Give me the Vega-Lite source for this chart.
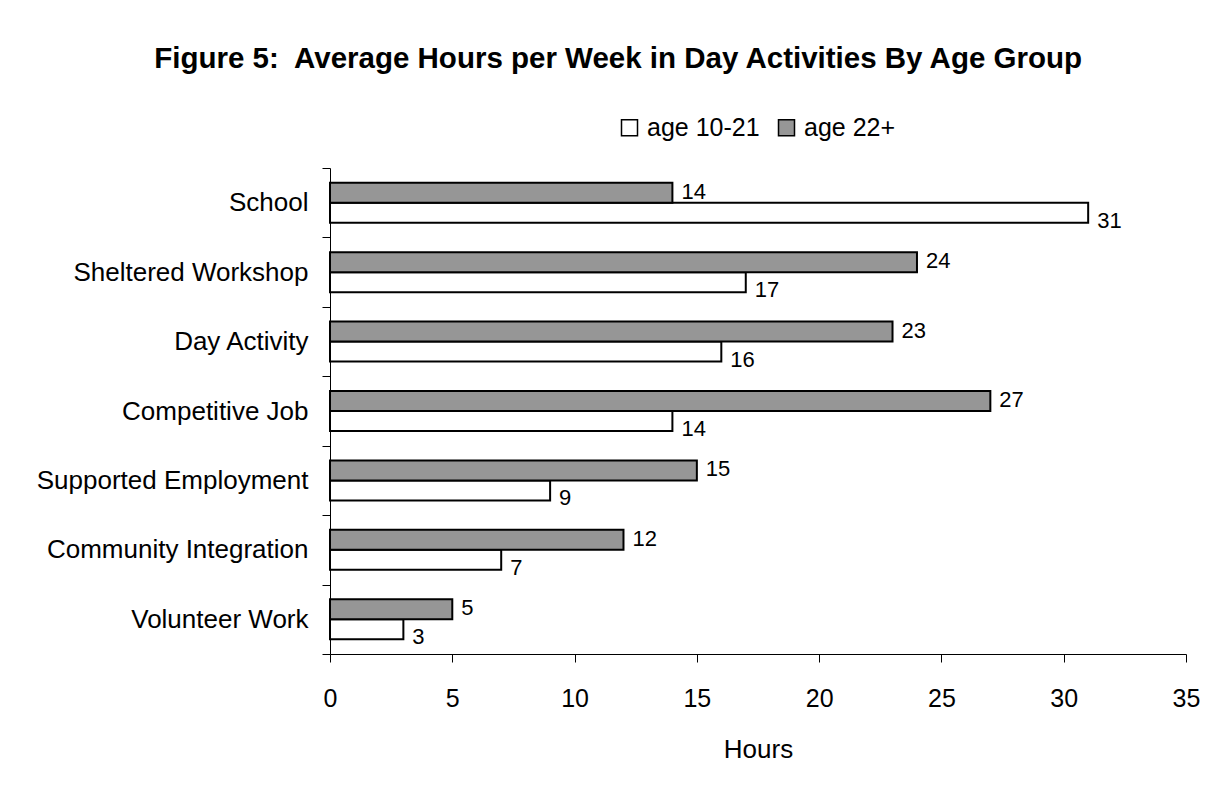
{
  "$schema": "https://vega.github.io/schema/vega-lite/v6.json",
  "width": 856,
  "height": 486,
  "autosize": "none",
  "padding": {"left": 330, "top": 168, "right": 31, "bottom": 133},
  "background": "white",
  "config": {
    "font": "Liberation Sans",
    "view": {"stroke": null}
  },
  "title": {
    "text": "Figure 5:\u00a0 Average Hours per Week in Day Activities By Age Group",
    "font": "Liberation Sans",
    "fontSize": 29.5,
    "fontWeight": "bold",
    "color": "black",
    "anchor": "middle",
    "frame": "bounds",
    "offset": 41
  },
  "data": {
    "values": [
      {"activity": "School", "group": "age 10-21", "hours": 31},
      {"activity": "School", "group": "age 22+", "hours": 14},
      {"activity": "Sheltered Workshop", "group": "age 10-21", "hours": 17},
      {"activity": "Sheltered Workshop", "group": "age 22+", "hours": 24},
      {"activity": "Day Activity", "group": "age 10-21", "hours": 16},
      {"activity": "Day Activity", "group": "age 22+", "hours": 23},
      {"activity": "Competitive Job", "group": "age 10-21", "hours": 14},
      {"activity": "Competitive Job", "group": "age 22+", "hours": 27},
      {"activity": "Supported Employment", "group": "age 10-21", "hours": 9},
      {"activity": "Supported Employment", "group": "age 22+", "hours": 15},
      {"activity": "Community Integration", "group": "age 10-21", "hours": 7},
      {"activity": "Community Integration", "group": "age 22+", "hours": 12},
      {"activity": "Volunteer Work", "group": "age 10-21", "hours": 3},
      {"activity": "Volunteer Work", "group": "age 22+", "hours": 5}
    ]
  },
  "encoding": {
    "y": {
      "field": "activity",
      "type": "nominal",
      "sort": null,
      "scale": {"paddingInner": 0, "paddingOuter": 0},
      "axis": {
        "title": null,
        "domainColor": "black",
        "tickColor": "black",
        "tickSize": 8,
        "tickBand": "extent",
        "labelFontSize": 26,
        "labelColor": "black",
        "labelPadding": 14,
        "labelLimit": 0,
        "labelFont": "Liberation Sans"
      }
    },
    "yOffset": {
      "field": "group",
      "type": "nominal",
      "sort": ["age 22+", "age 10-21"],
      "scale": {"paddingInner": 0, "paddingOuter": 0.736}
    },
    "x": {
      "field": "hours",
      "type": "quantitative",
      "scale": {"domain": [0, 35], "nice": false},
      "axis": {
        "title": "Hours",
        "values": [0, 5, 10, 15, 20, 25, 30, 35],
        "grid": false,
        "domainColor": "black",
        "tickColor": "black",
        "tickSize": 8,
        "labelFlush": false,
        "labelFontSize": 25,
        "labelColor": "black",
        "labelPadding": 24,
        "labelFont": "Liberation Sans",
        "titleFont": "Liberation Sans",
        "titleFontSize": 26,
        "titleFontWeight": "normal",
        "titleColor": "black",
        "titlePadding": 25
      }
    }
  },
  "layer": [
    {
      "mark": {"type": "bar", "stroke": "black", "strokeWidth": 2},
      "encoding": {
        "color": {
          "field": "group",
          "type": "nominal",
          "scale": {"domain": ["age 10-21", "age 22+"], "range": ["#ffffff", "#969696"]},
          "legend": {
            "title": null,
            "orient": "none",
            "direction": "horizontal",
            "legendX": 287,
            "legendY": -53,
            "symbolType": "square",
            "symbolSize": 256,
            "symbolStrokeColor": "black",
            "symbolStrokeWidth": 1.5,
            "symbolOpacity": 1,
            "labelFontSize": 25,
            "labelColor": "black",
            "labelFont": "Liberation Sans",
            "labelOffset": 5,
            "columnPadding": 14,
            "padding": 0
          }
        }
      }
    },
    {
      "transform": [{"filter": "datum.group == 'age 22+'"}],
      "mark": {"type": "text", "align": "left", "baseline": "middle", "dx": 9, "dy": -1, "fontSize": 22, "color": "black", "font": "Liberation Sans"},
      "encoding": {"text": {"field": "hours", "type": "quantitative"}}
    },
    {
      "transform": [{"filter": "datum.group == 'age 10-21'"}],
      "mark": {"type": "text", "align": "left", "baseline": "middle", "dx": 9, "dy": 8, "fontSize": 22, "color": "black", "font": "Liberation Sans"},
      "encoding": {"text": {"field": "hours", "type": "quantitative"}}
    }
  ]
}
